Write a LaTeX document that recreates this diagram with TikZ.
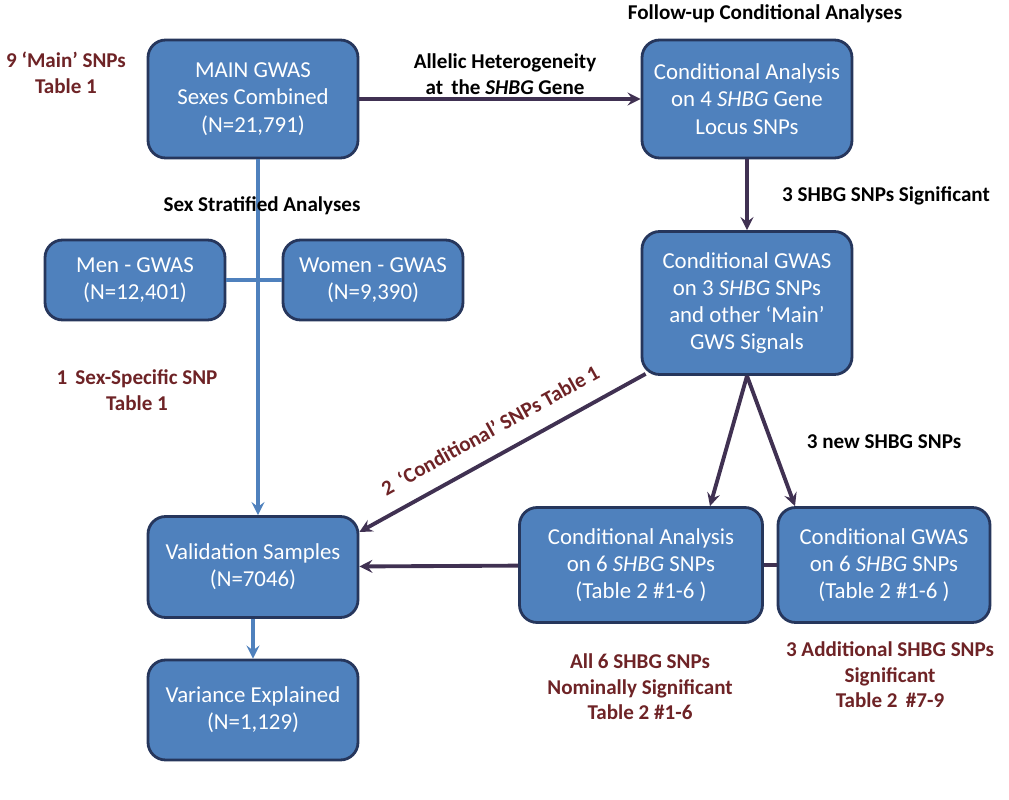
\documentclass[tikz,border=0pt]{standalone}
\usepackage{fontspec}
\setmainfont{Carlito}
\usepackage{tikz}
\usetikzlibrary{positioning}
\definecolor{boxblue}{RGB}{79,129,189}
\definecolor{boxedge}{RGB}{38,54,92}
\definecolor{flowpurple}{RGB}{64,49,82}
\definecolor{notered}{RGB}{110,35,38}

\tikzset{
  flowbox/.style={draw=boxedge, line width=1.6pt, fill=boxblue, rounded corners=10pt,
    text=white, align=center, font=\fontsize{13}{15.5}\selectfont, inner sep=2pt},
  note/.style={font=\bfseries\fontsize{12}{14.5}\selectfont, align=center},
  redn/.style={note, text=notered},
  bluearrow/.style={draw=boxblue, line width=2.2pt, -stealth},
  purparrow/.style={draw=flowpurple, line width=2.2pt, -stealth},
}

\begin{document}
\begin{tikzpicture}[x=0.02cm, y=-0.02cm]
    \useasboundingbox (0,0) rectangle (1009,800);
    % Boxes
    \node[flowbox, minimum width=4.2cm, minimum height=2.36cm] (main) at (253,99) {MAIN GWAS\\Sexes Combined\\(N=21,791)};
    \node[flowbox, minimum width=4.2cm, minimum height=2.36cm] (cond4) at (747,99) {Conditional Analysis\\on 4 \textit{SHBG} Gene\\Locus SNPs};
    \node[flowbox, minimum width=4.2cm, minimum height=2.86cm] (cond3) at (747,303) {Conditional GWAS\\on 3 \textit{SHBG} SNPs\\and other ‘Main’\\GWS Signals};
    \node[flowbox, minimum width=3.6cm, minimum height=1.6cm] (men) at (135,280) {Men - GWAS\\(N=12,401)};
    \node[flowbox, minimum width=3.6cm, minimum height=1.6cm] (women) at (373,280) {Women - GWAS\\(N=9,390)};
    \node[flowbox, minimum width=4.2cm, minimum height=2.02cm] (valid) at (253,567) {Validation Samples\\(N=7046)};
    \node[flowbox, minimum width=4.2cm, minimum height=2cm] (var) at (253,710) {Variance Explained\\(N=1,129)};
    \node[flowbox, minimum width=4.86cm, minimum height=2.3cm] (cond6) at (641,565) {Conditional Analysis\\on 6 \textit{SHBG} SNPs\\(Table 2 \#1-6 )};
    \node[flowbox, minimum width=4.24cm, minimum height=2.3cm] (gwas6) at (884,565) {Conditional GWAS\\on 6 \textit{SHBG} SNPs\\(Table 2 \#1-6 )};
    % Sex stratified tree
    \coordinate (split) at (258,300);
    \draw[draw=boxblue, line width=2.2pt] (men.east) -- (women.west);
    \draw[bluearrow] (main.south -| split) -- (valid.north -| split);
    \draw[bluearrow] (valid) -- (var);
    % Follow-up flow
    \coordinate (cw) at ([shift={(5,-2)}]cond3.south west);
    \coordinate (vin) at (valid.east |- 0,532);
    \draw[purparrow] (main) -- (cond4);
    \draw[purparrow] (cond4) -- (cond3);
    \draw[purparrow] (cond3.south) -- (cond6.north -| 710,0);
    \draw[purparrow] (cond3.south) -- (gwas6.north -| 795,0);
    \draw[purparrow] (cw) -- (vin);
    \draw[purparrow] (cond6) -- (valid);
    \draw[draw=flowpurple, line width=2.2pt] (cond6) -- (gwas6);
    % Labels
    \node[note] at (765,14) {Follow-up Conditional Analyses};
    \node[note] at (505,74) {Allelic Heterogeneity\\at\, the \textit{SHBG} Gene};
    \node[note] at (262,206) {Sex Stratified Analyses};
    \node[note] at (886,196) {3 SHBG SNPs Significant};
    \node[note] at (884,442) {3 new SHBG SNPs};
    \node[redn, rotate=29] at (490,430) {2\, ‘Conditional’ SNPs Table 1};
    \node[redn] at (66,73) {9 ‘Main’ SNPs\\Table 1};
    \node[redn] at (137,390) {1\, Sex-Specific SNP\\Table 1};
    \node[redn] at (640,687) {All 6 SHBG SNPs\\Nominally Significant\\Table 2 \#1-6};
    \node[redn] at (890,675) {3 Additional SHBG SNPs\\Significant\\Table 2\, \#7-9};
\end{tikzpicture}
\end{document}
